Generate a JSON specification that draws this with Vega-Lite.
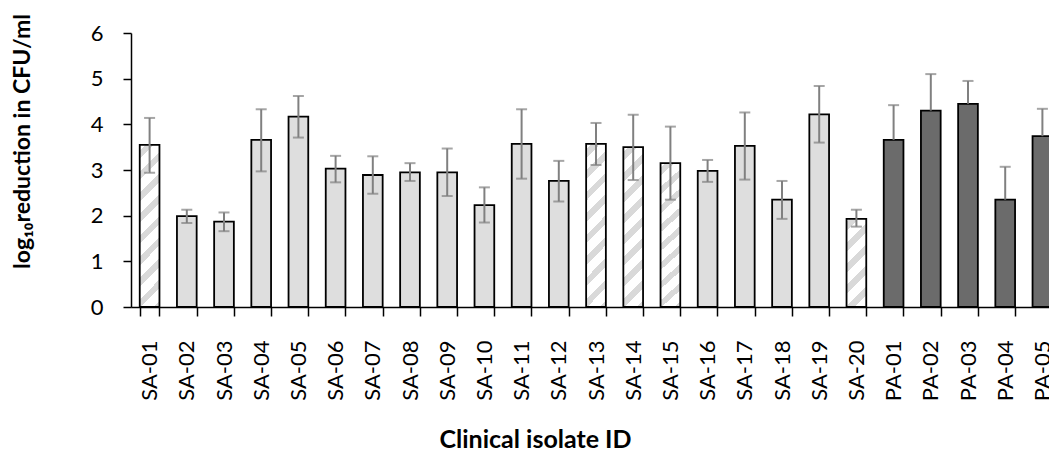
{
  "$schema": "https://vega.github.io/schema/vega-lite/v6.json",
  "width": 918,
  "height": 274,
  "autosize": {"type": "none"},
  "padding": {"left": 131, "top": 33, "right": 0, "bottom": 156},
  "background": "white",
  "config": {"view": {"stroke": null}, "font": "Lato"},
  "data": {
    "values": [
      {"id": "SA-01", "group": "SA", "hatch": "tall", "value": 3.55, "lo": 2.94, "hi": 4.14},
      {"id": "SA-02", "group": "SA", "hatch": "none", "value": 1.99, "lo": 1.84, "hi": 2.13},
      {"id": "SA-03", "group": "SA", "hatch": "none", "value": 1.87, "lo": 1.66, "hi": 2.07},
      {"id": "SA-04", "group": "SA", "hatch": "none", "value": 3.66, "lo": 2.97, "hi": 4.33},
      {"id": "SA-05", "group": "SA", "hatch": "none", "value": 4.17, "lo": 3.71, "hi": 4.62},
      {"id": "SA-06", "group": "SA", "hatch": "none", "value": 3.03, "lo": 2.73, "hi": 3.31},
      {"id": "SA-07", "group": "SA", "hatch": "none", "value": 2.89, "lo": 2.48, "hi": 3.30},
      {"id": "SA-08", "group": "SA", "hatch": "none", "value": 2.95, "lo": 2.76, "hi": 3.15},
      {"id": "SA-09", "group": "SA", "hatch": "none", "value": 2.95, "lo": 2.43, "hi": 3.47},
      {"id": "SA-10", "group": "SA", "hatch": "none", "value": 2.23, "lo": 1.85, "hi": 2.62},
      {"id": "SA-11", "group": "SA", "hatch": "none", "value": 3.57, "lo": 2.81, "hi": 4.33},
      {"id": "SA-12", "group": "SA", "hatch": "none", "value": 2.76, "lo": 2.31, "hi": 3.20},
      {"id": "SA-13", "group": "SA", "hatch": "tall", "value": 3.57, "lo": 3.11, "hi": 4.03},
      {"id": "SA-14", "group": "SA", "hatch": "tall", "value": 3.50, "lo": 2.78, "hi": 4.21},
      {"id": "SA-15", "group": "SA", "hatch": "tall", "value": 3.15, "lo": 2.35, "hi": 3.95},
      {"id": "SA-16", "group": "SA", "hatch": "none", "value": 2.98, "lo": 2.74, "hi": 3.22},
      {"id": "SA-17", "group": "SA", "hatch": "none", "value": 3.53, "lo": 2.79, "hi": 4.26},
      {"id": "SA-18", "group": "SA", "hatch": "none", "value": 2.35, "lo": 1.93, "hi": 2.76},
      {"id": "SA-19", "group": "SA", "hatch": "none", "value": 4.22, "lo": 3.60, "hi": 4.84},
      {"id": "SA-20", "group": "SA", "hatch": "short", "value": 1.93, "lo": 1.76, "hi": 2.13},
      {"id": "PA-01", "group": "PA", "hatch": "none", "value": 3.66, "lo": 3.66, "hi": 4.42},
      {"id": "PA-02", "group": "PA", "hatch": "none", "value": 4.30, "lo": 4.30, "hi": 5.10},
      {"id": "PA-03", "group": "PA", "hatch": "none", "value": 4.45, "lo": 4.45, "hi": 4.95},
      {"id": "PA-04", "group": "PA", "hatch": "none", "value": 2.35, "lo": 2.35, "hi": 3.07},
      {"id": "PA-05", "group": "PA", "hatch": "none", "value": 3.74, "lo": 3.74, "hi": 4.34}
    ]
  },
  "encoding": {
    "x": {
      "field": "id",
      "type": "nominal",
      "sort": null,
      "scale": {"paddingInner": 0.47, "paddingOuter": 0.235, "range": [0, 930]},
      "axis": {
        "title": "Clinical isolate ID",
        "titleFont": "Lato",
        "titleFontWeight": "bold",
        "titleFontSize": 25,
        "titleColor": "black",
        "titleX": 404,
        "titleY": 140,
        "titleAlign": "center",
        "titleBaseline": "alphabetic",
        "labelAngle": -90,
        "labelFontSize": 22,
        "labelColor": "black",
        "labelPadding": 24,
        "tickBand": "extent",
        "tickSize": 9,
        "tickColor": "black",
        "tickWidth": 1.5,
        "domainColor": "black",
        "domainWidth": 1.5
      }
    }
  },
  "layer": [
    {
      "mark": {"type": "bar", "stroke": "black", "strokeWidth": 1.8},
      "encoding": {
        "y": {
          "field": "value",
          "type": "quantitative",
          "scale": {"domain": [0, 6], "nice": false},
          "axis": {
            "title": "log₁₀reduction in CFU/ml",
            "titleFont": "Lato",
            "titleFontWeight": "bold",
            "titleFontSize": 23,
            "titleColor": "black",
            "titleAngle": 270,
            "titleX": -109,
            "titleY": 108,
            "titleAlign": "center",
            "titleBaseline": "middle",
            "values": [0, 1, 2, 3, 4, 5, 6],
            "grid": false,
            "labelFontSize": 22,
            "labelColor": "black",
            "labelPadding": 20,
            "tickSize": 8,
            "tickColor": "black",
            "tickWidth": 1.5,
            "domainColor": "black",
            "domainWidth": 1.5
          }
        },
        "fill": {
          "condition": [
            {
              "test": "datum.hatch === 'tall'",
              "value": {
                "gradient": "linear", "x1": 0, "y1": 0, "x2": 0.136, "y2": 1.106,
                "stops": [
                  {"offset": 0, "color": "#ffffff"},
                  {"offset": 0.03, "color": "#ffffff"}, {"offset": 0.03, "color": "#d9d9d9"},
                  {"offset": 0.077, "color": "#d9d9d9"}, {"offset": 0.077, "color": "#ffffff"},
                  {"offset": 0.147, "color": "#ffffff"}, {"offset": 0.147, "color": "#d9d9d9"},
                  {"offset": 0.194, "color": "#d9d9d9"}, {"offset": 0.194, "color": "#ffffff"},
                  {"offset": 0.264, "color": "#ffffff"}, {"offset": 0.264, "color": "#d9d9d9"},
                  {"offset": 0.311, "color": "#d9d9d9"}, {"offset": 0.311, "color": "#ffffff"},
                  {"offset": 0.381, "color": "#ffffff"}, {"offset": 0.381, "color": "#d9d9d9"},
                  {"offset": 0.428, "color": "#d9d9d9"}, {"offset": 0.428, "color": "#ffffff"},
                  {"offset": 0.498, "color": "#ffffff"}, {"offset": 0.498, "color": "#d9d9d9"},
                  {"offset": 0.545, "color": "#d9d9d9"}, {"offset": 0.545, "color": "#ffffff"},
                  {"offset": 0.615, "color": "#ffffff"}, {"offset": 0.615, "color": "#d9d9d9"},
                  {"offset": 0.662, "color": "#d9d9d9"}, {"offset": 0.662, "color": "#ffffff"},
                  {"offset": 0.732, "color": "#ffffff"}, {"offset": 0.732, "color": "#d9d9d9"},
                  {"offset": 0.779, "color": "#d9d9d9"}, {"offset": 0.779, "color": "#ffffff"},
                  {"offset": 0.849, "color": "#ffffff"}, {"offset": 0.849, "color": "#d9d9d9"},
                  {"offset": 0.896, "color": "#d9d9d9"}, {"offset": 0.896, "color": "#ffffff"},
                  {"offset": 0.966, "color": "#ffffff"}, {"offset": 0.966, "color": "#d9d9d9"},
                  {"offset": 1, "color": "#d9d9d9"}
                ]
              }
            },
            {
              "test": "datum.hatch === 'short'",
              "value": {
                "gradient": "linear", "x1": 0, "y1": 0, "x2": 0.261, "y2": 1.165,
                "stops": [
                  {"offset": 0, "color": "#ffffff"},
                  {"offset": 0.03, "color": "#ffffff"}, {"offset": 0.03, "color": "#d9d9d9"},
                  {"offset": 0.108, "color": "#d9d9d9"}, {"offset": 0.108, "color": "#ffffff"},
                  {"offset": 0.225, "color": "#ffffff"}, {"offset": 0.225, "color": "#d9d9d9"},
                  {"offset": 0.303, "color": "#d9d9d9"}, {"offset": 0.303, "color": "#ffffff"},
                  {"offset": 0.42, "color": "#ffffff"}, {"offset": 0.42, "color": "#d9d9d9"},
                  {"offset": 0.498, "color": "#d9d9d9"}, {"offset": 0.498, "color": "#ffffff"},
                  {"offset": 0.615, "color": "#ffffff"}, {"offset": 0.615, "color": "#d9d9d9"},
                  {"offset": 0.693, "color": "#d9d9d9"}, {"offset": 0.693, "color": "#ffffff"},
                  {"offset": 0.81, "color": "#ffffff"}, {"offset": 0.81, "color": "#d9d9d9"},
                  {"offset": 0.888, "color": "#d9d9d9"}, {"offset": 0.888, "color": "#ffffff"},
                  {"offset": 1, "color": "#ffffff"}
                ]
              }
            }
          ],
          "field": "group",
          "type": "nominal",
          "scale": {"domain": ["SA", "PA"], "range": ["#dedede", "#6b6b6b"]},
          "legend": null
        }
      }
    },
    {
      "mark": {"type": "rule", "color": "#808080", "strokeWidth": 2},
      "encoding": {
        "y": {"field": "lo", "type": "quantitative"},
        "y2": {"field": "hi"}
      }
    },
    {
      "mark": {"type": "tick", "color": "#808080", "thickness": 2, "size": 11, "orient": "horizontal"},
      "encoding": {
        "y": {"field": "hi", "type": "quantitative"}
      }
    },
    {
      "transform": [{"filter": "datum.group === 'SA'"}],
      "mark": {"type": "tick", "color": "#808080", "thickness": 2, "size": 11, "orient": "horizontal"},
      "encoding": {
        "y": {"field": "lo", "type": "quantitative"}
      }
    }
  ]
}
